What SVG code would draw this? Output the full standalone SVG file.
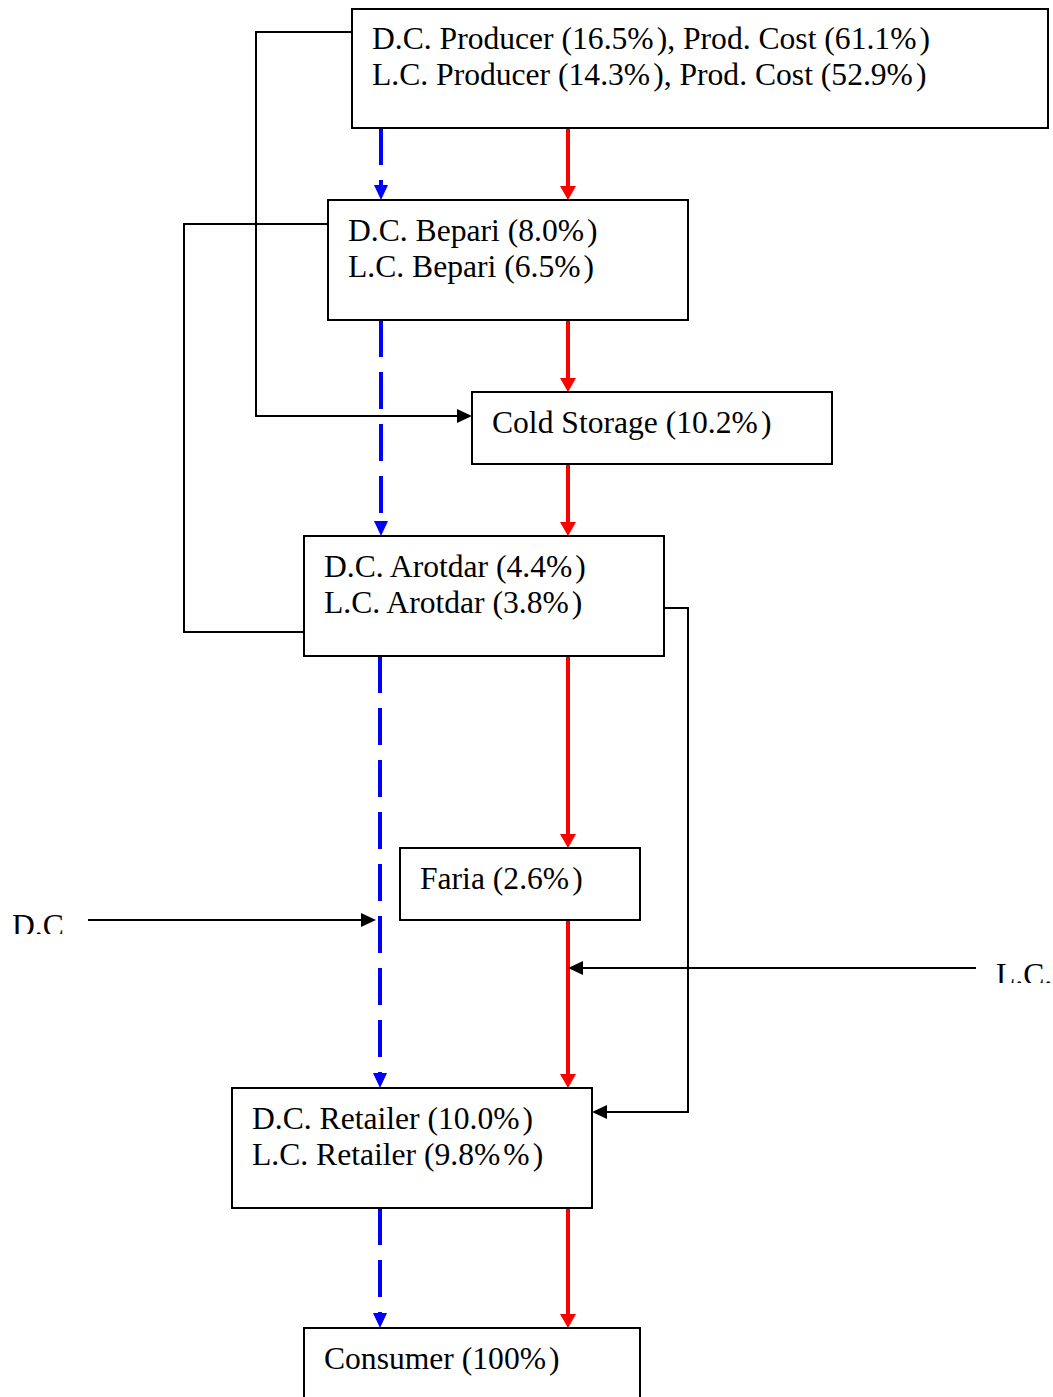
<svg xmlns="http://www.w3.org/2000/svg" width="1053" height="1397" viewBox="0 0 1053 1397">
  <style>
    .box { fill: #ffffff; stroke: #000000; stroke-width: 2; }
    .lbl { font-family: "Liberation Serif", "Times New Roman", serif; font-size: 31.6px; fill: #000000; }
    .dc { fill: none; stroke: #0000ff; stroke-width: 4; stroke-dasharray: 37 15; }
    .lc { fill: none; stroke: #ff0000; stroke-width: 4; }
    .link { fill: none; stroke: #000000; stroke-width: 2; }
  </style>
  <defs>
    <marker id="ah-blue" markerUnits="userSpaceOnUse" markerWidth="15" markerHeight="14" refX="0" refY="7" orient="auto">
      <path d="M0,0 L15,7 L0,14 Z" fill="#0000ff"/>
    </marker>
    <marker id="ah-red" markerUnits="userSpaceOnUse" markerWidth="14" markerHeight="16" refX="0" refY="8" orient="auto">
      <path d="M0,0 L14,8 L0,16 Z" fill="#ff0000"/>
    </marker>
    <marker id="ah-black" markerUnits="userSpaceOnUse" markerWidth="15" markerHeight="14" refX="0" refY="7" orient="auto">
      <path d="M0,0 L15,7 L0,14 Z" fill="#000000"/>
    </marker>
    <clipPath id="clip-dc"><rect x="0" y="890" width="80" height="44"/></clipPath>
    <clipPath id="clip-lc"><rect x="985" y="940" width="68" height="43"/></clipPath>
  </defs>

  <rect width="1053" height="1397" fill="#ffffff"/>

  <!-- flow connectors -->
  <g id="connectors">
    <!-- D.C. chain (blue, dashed) -->
    <path class="dc" d="M381,128 V185" marker-end="url(#ah-blue)"/>
    <path class="dc" d="M381,320 V521" marker-end="url(#ah-blue)"/>
    <path class="dc" d="M380,656 V1073" marker-end="url(#ah-blue)"/>
    <path class="dc" d="M380,1208 V1313" marker-end="url(#ah-blue)"/>
    <!-- L.C. chain (red, solid) -->
    <path class="lc" d="M568,128 V186" marker-end="url(#ah-red)"/>
    <path class="lc" d="M568,320 V378" marker-end="url(#ah-red)"/>
    <path class="lc" d="M568,464 V522" marker-end="url(#ah-red)"/>
    <path class="lc" d="M568,656 V834" marker-end="url(#ah-red)"/>
    <path class="lc" d="M568,920 V1074" marker-end="url(#ah-red)"/>
    <path class="lc" d="M568,1208 V1314" marker-end="url(#ah-red)"/>
    <!-- bypass links (black) -->
    <path class="link" d="M352,32 H256 V416 H457" marker-end="url(#ah-black)"/>
    <path class="link" d="M328,224 H184 V632 H304"/>
    <path class="link" d="M664,608 H688 V1112 H607" marker-end="url(#ah-black)"/>
    <path class="link" d="M88,920 H361" marker-end="url(#ah-black)"/>
    <path class="link" d="M976,968 H583" marker-end="url(#ah-black)"/>
  </g>

  <g id="producer">
    <rect class="box" x="352" y="9" width="696" height="119"/>
    <text class="lbl" x="372" y="49">D.C. Producer (16.5%<tspan dx="3">)</tspan>, Prod. Cost (61.1%<tspan dx="3">)</tspan></text>
    <text class="lbl" x="372" y="85">L.C. Producer (14.3%<tspan dx="3">)</tspan>, Prod. Cost (52.9%<tspan dx="3">)</tspan></text>
  </g>

  <g id="bepari">
    <rect class="box" x="328" y="200" width="360" height="120"/>
    <text class="lbl" x="348" y="241">D.C. Bepari (8.0%<tspan dx="3">)</tspan></text>
    <text class="lbl" x="348" y="277">L.C. Bepari (6.5%<tspan dx="3">)</tspan></text>
  </g>

  <g id="cold-storage">
    <rect class="box" x="472" y="392" width="360" height="72"/>
    <text class="lbl" x="492" y="433">Cold Storage (10.2%<tspan dx="3">)</tspan></text>
  </g>

  <g id="arotdar">
    <rect class="box" x="304" y="536" width="360" height="120"/>
    <text class="lbl" x="324" y="577">D.C. Arotdar (4.4%<tspan dx="3">)</tspan></text>
    <text class="lbl" x="324" y="613">L.C. Arotdar (3.8%<tspan dx="3">)</tspan></text>
  </g>

  <g id="faria">
    <rect class="box" x="400" y="848" width="240" height="72"/>
    <text class="lbl" x="420" y="889">Faria (2.6%<tspan dx="3">)</tspan></text>
  </g>

  <g id="retailer">
    <rect class="box" x="232" y="1088" width="360" height="120"/>
    <text class="lbl" x="252" y="1129">D.C. Retailer (10.0%<tspan dx="3">)</tspan></text>
    <text class="lbl" x="252" y="1165">L.C. Retailer (9.8%<tspan dx="3">%</tspan><tspan dx="3">)</tspan></text>
  </g>

  <g id="consumer">
    <rect class="box" x="304" y="1328" width="336" height="90"/>
    <text class="lbl" x="324" y="1369">Consumer (100%<tspan dx="3">)</tspan></text>
  </g>

  <g id="label-dc">
    <text class="lbl" x="12" y="936" clip-path="url(#clip-dc)">D.C</text>
  </g>
  <g id="label-lc">
    <text class="lbl" x="996" y="985" clip-path="url(#clip-lc)">L.C.</text>
  </g>
</svg>
